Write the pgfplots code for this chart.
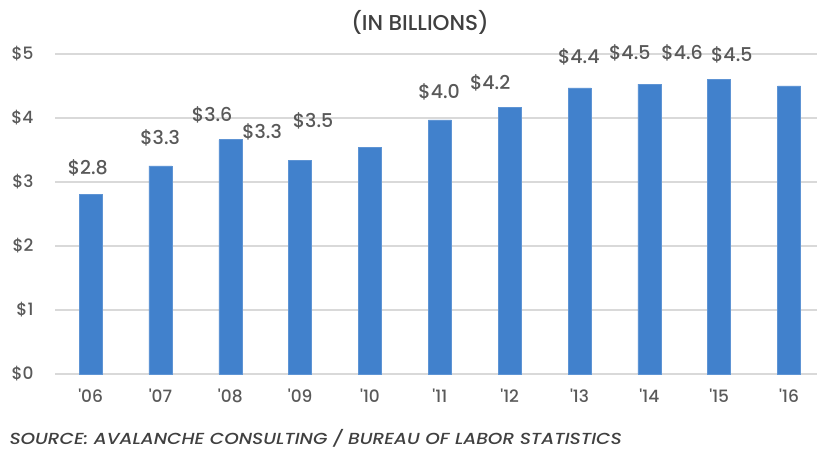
\documentclass[border=0pt]{standalone}
\usepackage{pgfplots}
\pgfplotsset{compat=1.18}
\usepackage{fontspec}
\setmainfont{Poppins}[UprightFont={* Medium}, ItalicFont={* Medium Italic}]
\newfontfamily\srcfont{Poppins}[UprightFont={* Medium}, ItalicFont={* Medium Italic}, FakeStretch=1.16]
\definecolor{barblue}{RGB}{65,129,204}
\definecolor{gridgray}{RGB}{217,217,217}
\definecolor{txtgray}{RGB}{89,89,89}
\definecolor{darkgray}{RGB}{64,64,64}
\begin{document}
\begin{tikzpicture}
\useasboundingbox (-55bp,-76bp) rectangle (762bp,374bp);
\begin{axis}[
  at={(0,0)}, anchor=south west,
  scale only axis, width=762bp, height=320bp,
  xmin=-0.51, xmax=10.4, ymin=0, ymax=5,
  axis line style={draw=none},
  major tick length=0pt,
  ymajorgrids, grid style={gridgray, line width=1.3bp},
  ytick={0,1,2,3,4,5},
  yticklabels={\$0,\$1,\$2,\$3,\$4,\$5},
  xtick={0,...,10},
  xticklabels={\textquotesingle06,\textquotesingle07,\textquotesingle08,\textquotesingle09,\textquotesingle10,\textquotesingle11,\textquotesingle12,\textquotesingle13,\textquotesingle14,\textquotesingle15,\textquotesingle16},
  yticklabel style={font=\fontsize{17bp}{19bp}\selectfont, text=txtgray, anchor=east, xshift=-18bp},
  xticklabel style={font=\fontsize{17bp}{19bp}\selectfont, text=txtgray, anchor=north, yshift=-11bp},
  ybar, bar width=23bp, bar shift=0pt,
  clip=false,
]
\addplot[fill=barblue, draw=barblue!85!white, line width=0.6bp] coordinates {
  (0,2.81) (1,3.25) (2,3.66) (3,3.34) (4,3.54) (5,3.97)
  (6,4.16) (7,4.47) (8,4.53) (9,4.60) (10,4.50)
};
\begin{scope}[every node/.style={font=\fontsize{19bp}{21bp}\selectfont, text=txtgray, anchor=center}]
\node at (axis cs:-0.04,3.22) {\$2.8};
\node at (axis cs:0.995,3.69) {\$3.3};
\node at (axis cs:1.74,4.05) {\$3.6};
\node at (axis cs:2.455,3.78) {\$3.3};
\node at (axis cs:3.185,3.95) {\$3.5};
\node at (axis cs:4.99,4.41) {\$4.0};
\node at (axis cs:5.72,4.55) {\$4.2};
\node at (axis cs:6.99,4.95) {\$4.4};
\node at (axis cs:7.72,5.02) {\$4.5};
\node at (axis cs:8.47,5.02) {\$4.6};
\node at (axis cs:9.18,4.98) {\$4.5};
\end{scope}
\node[font=\fontsize{21.5bp}{23bp}\selectfont, text=darkgray] at (rel axis cs:0.479,1) [yshift=32bp] {(IN BILLIONS)};
\node[font=\srcfont\itshape\fontsize{16bp}{18bp}\selectfont, text=darkgray, anchor=west] at (rel axis cs:0,0) [xshift=-49bp, yshift=-64bp] {SOURCE: AVALANCHE CONSULTING / BUREAU OF LABOR STATISTICS};
\end{axis}
\end{tikzpicture}
\end{document}
